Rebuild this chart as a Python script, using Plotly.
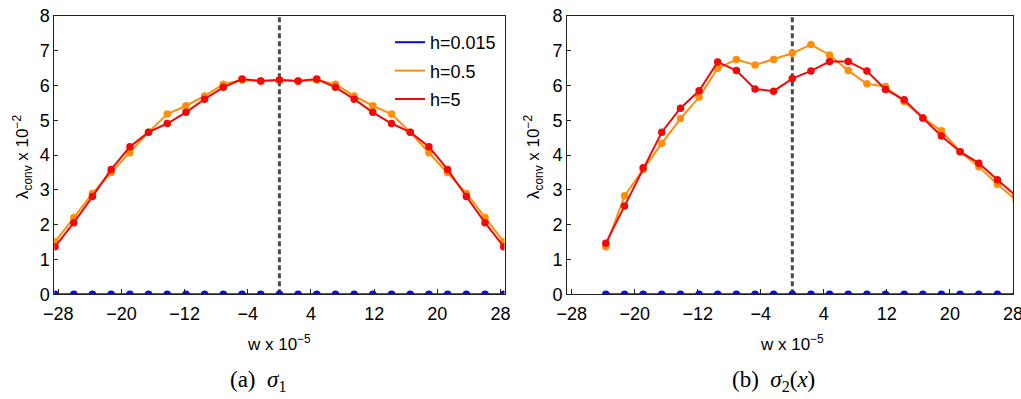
import plotly.graph_objects as go

# Frequency grid (w x 10^-5), 25 samples symmetric about 0
W = [-28.4, -26.03, -23.67, -21.3, -18.93, -16.57, -14.2, -11.83, -9.47, -7.1,
     -4.73, -2.37, 0.0, 2.37, 4.73, 7.1, 9.47, 11.83, 14.2, 16.57, 18.93,
     21.3, 23.67, 26.03, 28.4]

# Panel (a): sigma_1
A_H0015 = [0.0] * 25
A_H05 = [1.51, 2.21, 2.90, 3.50, 4.07, 4.66, 5.18, 5.42, 5.70, 6.04, 6.16, 6.13,
         6.16, 6.13, 6.16, 6.04, 5.70, 5.42, 5.18, 4.66, 4.07, 3.50, 2.90, 2.21, 1.51]
A_H5 = [1.37, 2.06, 2.81, 3.59, 4.24, 4.66, 4.91, 5.23, 5.61, 5.95, 6.19, 6.13,
        6.16, 6.13, 6.19, 5.95, 5.61, 5.23, 4.91, 4.66, 4.24, 3.59, 2.81, 2.06, 1.37]

# Panel (b): sigma_2(x), starts at the third grid point
W_B = W[2:]
B_H0015 = [0.0] * 23
B_H05 = [1.37, 2.83, 3.59, 4.34, 5.05, 5.67, 6.50, 6.75, 6.59, 6.75, 6.93, 7.18,
         6.88, 6.43, 6.05, 5.97, 5.54, 5.07, 4.70, 4.10, 3.67, 3.16, 2.71]
B_H5 = [1.47, 2.54, 3.64, 4.66, 5.35, 5.85, 6.68, 6.43, 5.90, 5.84, 6.20, 6.42,
        6.69, 6.69, 6.42, 5.89, 5.59, 5.07, 4.55, 4.10, 3.77, 3.29, 2.83]

SERIES_NAMES = ["h=0.015", "h=0.5", "h=5"]
COLORS = ["#0a0ae6", "#ff8f0a", "#f00a0a"]
X_TICKS = [-28, -20, -12, -4, 4, 12, 20, 28]
Y_TICKS = [0, 1, 2, 3, 4, 5, 6, 7, 8]
Y_MINOR = [i * 0.5 for i in range(17)]

W_PX, H_PX = 1021, 399
FONT = "Liberation Sans"

fig = go.Figure()

panels = [
    ("x", "y", W, [A_H0015, A_H05, A_H5], True),
    ("x2", "y2", W_B, [B_H0015, B_H05, B_H5], False),
]
for xa, ya, xs, ys_list, legend in panels:
    for name, color, ys in zip(SERIES_NAMES, COLORS, ys_list):
        fig.add_trace(go.Scatter(
            x=xs, y=ys, mode="lines", name=name, xaxis=xa, yaxis=ya,
            line=dict(color=color, width=2), showlegend=legend,
            legendgroup=name, hoverinfo="skip"))
        fig.add_trace(go.Scatter(
            x=xs, y=ys, mode="markers", xaxis=xa, yaxis=ya,
            marker=dict(color=color, size=7.5), showlegend=False,
            legendgroup=name, hoverinfo="skip"))

top_px, bot_px = 16, 294.3
ydom = [1 - bot_px / H_PX, 1 - top_px / H_PX]
left_dom = [54.3 / W_PX, 504.5 / W_PX]
right_dom = [567.0 / W_PX, 1013.3 / W_PX]

frame = "#222222"
tickfont = dict(family=FONT, size=18, color="black")


def xaxis_cfg(dom, rng, anchor):
    return dict(domain=dom, range=rng, anchor=anchor, tickvals=X_TICKS,
                ticks="inside", ticklen=5, tickcolor=frame, tickwidth=1,
                showline=True, linecolor=frame, linewidth=1, mirror=True,
                showgrid=False, zeroline=False, tickfont=tickfont,
                ticklabelstandoff=3, automargin=False,
                ticklabeloverflow="allow")


def yaxis_cfg(anchor):
    return dict(domain=ydom, range=[0, 8], anchor=anchor, tickvals=Y_TICKS,
                ticks="inside", ticklen=4, tickcolor=frame, tickwidth=1,
                showline=True, linecolor=frame, linewidth=1, mirror=True,
                showgrid=False, zeroline=False, tickfont=tickfont,
                automargin=False, ticklabeloverflow="allow")


def right_ticks(over, anchor):
    return dict(overlaying=over, anchor=anchor, side="right", range=[0, 8],
                tickvals=Y_MINOR, ticks="inside", ticklen=4, tickcolor=frame,
                tickwidth=1, showticklabels=False, showline=False,
                showgrid=False, zeroline=False, automargin=False)


fig.update_layout(
    width=W_PX, height=H_PX,
    margin=dict(l=0, r=0, t=0, b=0, autoexpand=False),
    paper_bgcolor="white", plot_bgcolor="white",
    xaxis=xaxis_cfg(left_dom, [-28.5, 28.5], "y"),
    yaxis=yaxis_cfg("x"),
    xaxis2=xaxis_cfg(right_dom, [-28.6, 28.05], "y2"),
    yaxis2=yaxis_cfg("x2"),
    yaxis3=right_ticks("y", "x"),
    yaxis4=right_ticks("y2", "x2"),
    legend=dict(x=390 / W_PX, y=1 - 24 / H_PX, xanchor="left", yanchor="top",
                font=dict(family=FONT, size=18, color="black"),
                bgcolor="rgba(0,0,0,0)", borderwidth=0, tracegroupgap=2,
                itemwidth=30),
    showlegend=True,
)

# dashed marker at w = 0 in both panels
for xref, yref in [("x", "y domain"), ("x2", "y2 domain")]:
    fig.add_shape(type="line", xref=xref, yref=yref, x0=0, x1=0, y0=0, y1=1,
                  line=dict(color="#4a4a4a", width=3, dash="5px,3px"),
                  layer="below")

ann_font = dict(family=FONT, size=17, color="black")
cap_font = dict(family="Liberation Serif", size=23, color="black")
annotations = [
    dict(text="λ<sub>conv</sub> x 10<sup>−2</sup>", x=23, y=157, textangle=-90,
         font=ann_font),
    dict(text="λ<sub>conv</sub> x 10<sup>−2</sup>", x=534, y=157, textangle=-90,
         font=ann_font),
    dict(text="w x 10<sup>−5</sup>", x=279, y=343, font=ann_font),
    dict(text="w x 10<sup>−5</sup>", x=792, y=343, font=ann_font),
    dict(text="(a)  <i>σ</i><sub>1</sub>", x=257.5, y=381, font=cap_font),
    dict(text="(b)  <i>σ</i><sub>2</sub>(<i>x</i>)", x=773, y=381, font=cap_font),
]
for a in annotations:
    fig.add_annotation(text=a["text"], x=a["x"] / W_PX, y=1 - a["y"] / H_PX,
                       xref="paper", yref="paper", showarrow=False,
                       xanchor="center", yanchor="middle",
                       textangle=a.get("textangle", 0), font=a["font"])

fig.write_html("out.html")
